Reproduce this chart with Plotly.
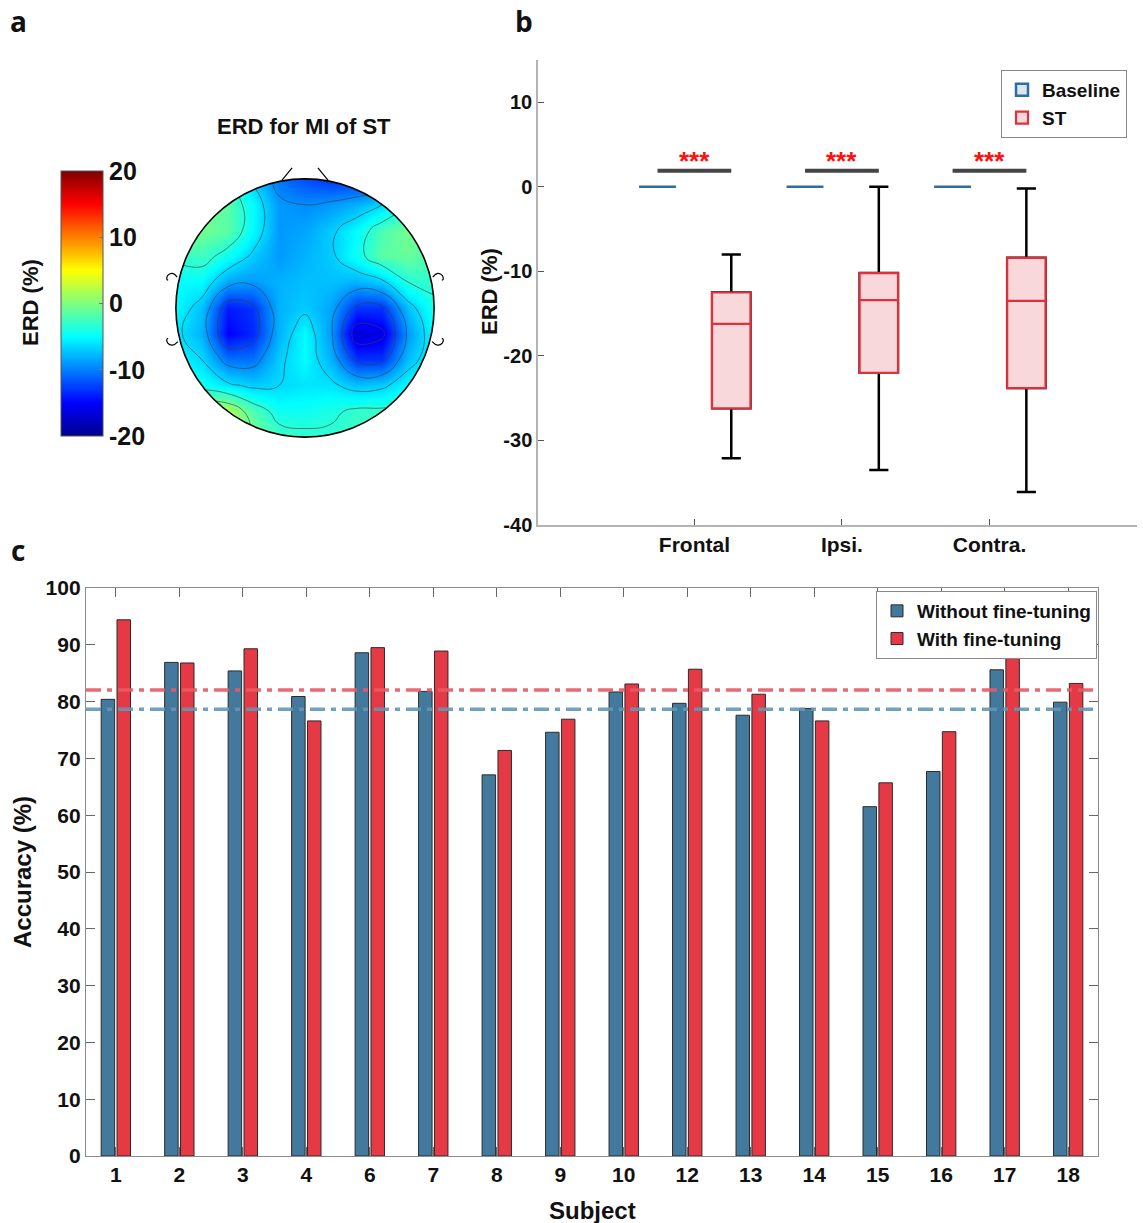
import numpy as np
import plotly.graph_objects as go

W, H = 1143, 1223
FONT = "Liberation Sans, Arial, Helvetica, sans-serif"

# ---------------- data ----------------
# Panel a: ERD topography (%), coarse grid (rows top -> bottom)
topo_x = [-1.0, -0.8, -0.6, -0.4, -0.2, 0.0, 0.2, 0.4, 0.6, 0.8, 1.0]
topo_y_top_down = [1.0, 0.8, 0.6, 0.4, 0.2, 0.0, -0.2, -0.4, -0.6, -0.8, -1.0]
topo_rows = [
    [-3, -3, -4, -7, -10.5, -12, -13, -13, -12, -8, -5],
    [-1, -1, -1.5, -5, -9, -9.5, -9, -8, -6.5, -4, -3],
    [-1, -0.5, -1.5, -5, -9, -8.5, -7, -5, -2, -0.5, -1],
    [-3, -2.5, -4.5, -7, -9, -8, -7, -4.5, -1.5, -1, -2],
    [-5, -5, -8.5, -9, -8, -7.5, -7.5, -8, -7, -3.5, -3],
    [-5, -7.5, -14, -13, -8, -7, -8.5, -13, -13, -7.5, -4],
    [-6, -8, -15, -13.5, -8, -5, -9, -17, -16, -9, -5],
    [-5, -6.5, -10.5, -10.5, -7, -5, -8, -13, -13, -7.5, -5],
    [-4, -4.5, -6, -7, -6.5, -6, -6, -7.5, -7, -5, -4],
    [1, 2, 2, -2, -4.5, -4.5, -4, -3, -3, -3, -3],
    [3, 3, 3, 0, -2.5, -3, -3, -2.5, -2.5, -3, -3],
]
cbar_ticks = [-20, -10, 0, 10, 20]
cbar_ticktext = ["-20", "-10", "0", "10", "20"]

# Panel b: ERD box statistics (%)
regions = ["Frontal", "Ipsi.", "Contra."]
baseline_vals = [0, 0, 0]
st_upper = [-8.0, 0.0, -0.2]
st_q3 = [-12.5, -10.2, -8.4]
st_median = [-16.2, -13.4, -13.5]
st_q1 = [-26.2, -22.0, -23.8]
st_lower = [-32.1, -33.5, -36.1]
sig_labels = ["***", "***", "***"]
erd_ticks = [-40, -30, -20, -10, 0, 10]
erd_ticktext = ["-40", "-30", "-20", "-10", "0", "10"]

# Panel c: accuracy (%)
subjects = ["1", "2", "3", "4", "6", "7", "8", "9", "10", "12", "13", "14", "15", "16", "17", "18"]
acc_without = [80.4, 86.9, 85.4, 80.9, 88.6, 81.8, 67.1, 74.6, 81.7, 79.7, 77.6, 78.8, 61.5, 67.7, 85.6, 79.9]
acc_with = [94.4, 86.8, 89.3, 76.6, 89.5, 88.9, 71.4, 76.9, 83.1, 85.7, 81.3, 76.6, 65.7, 74.7, 88.8, 83.2]

# ---------------- helpers ----------------
def PX(x):
    return x / W

def PY(y):
    return 1 - y / H

jet = [
    [0.0, "rgb(0,0,143)"], [0.125, "rgb(0,0,255)"], [0.375, "rgb(0,255,255)"],
    [0.625, "rgb(255,255,0)"], [0.875, "rgb(255,0,0)"], [1.0, "rgb(128,0,0)"],
]

fig = go.Figure()

# ---------------- panel a ----------------
topo_y = topo_y_top_down[::-1]
topo_z = topo_rows[::-1]
fig.add_trace(go.Heatmap(
    x=topo_x, y=topo_y, z=topo_z, zsmooth="best", zmin=-20, zmax=20,
    colorscale=jet, xaxis="x", yaxis="y", hoverinfo="skip", showlegend=False,
    colorbar=dict(
        x=PX(61), xanchor="left", y=PY(303.5), yanchor="middle",
        len=265 / H, lenmode="fraction", thickness=42, thicknessmode="pixels",
        xpad=0, ypad=0, outlinewidth=1, outlinecolor="#555",
        tickvals=cbar_ticks, ticktext=cbar_ticktext, ticks="inside", ticklen=4, tickcolor="#777",
        tickfont=dict(family=FONT, size=25, color="#111", weight="bold"),
    ),
))
fig.add_trace(go.Contour(
    x=topo_x, y=topo_y, z=topo_z, showscale=False, showlegend=False, hoverinfo="skip",
    contours=dict(coloring="none", start=-15.5, end=3, size=3),
    line=dict(color="rgba(60,60,60,0.7)", width=0.9, smoothing=1.3),
    xaxis="x", yaxis="y",
))

theta = np.linspace(0, 2 * np.pi, 241)
circ = " L ".join(f"{np.cos(t):.4f},{np.sin(t):.4f}" for t in theta)
mask_path = "M -1.1,-1.1 L 1.1,-1.1 L 1.1,1.1 L -1.1,1.1 Z M " + circ + " Z"

shapes = [
    dict(type="path", path=mask_path, xref="x", yref="y", fillcolor="white",
         line=dict(width=0), layer="above", fillrule="evenodd"),
    dict(type="circle", xref="x", yref="y", x0=-1, x1=1, y0=-1, y1=1,
         line=dict(color="black", width=1.6), layer="above"),
    # nose
    dict(type="line", xref="x", yref="y", x0=-0.178, y0=0.99, x1=-0.10, y1=1.085,
         line=dict(color="black", width=1.2), layer="above"),
    dict(type="line", xref="x", yref="y", x0=0.178, y0=0.99, x1=0.10, y1=1.085,
         line=dict(color="black", width=1.2), layer="above"),
    # ears
    dict(type="path", xref="x", yref="y", path="M -0.99,0.24 Q -1.03,0.29 -1.065,0.25 Q -1.08,0.22 -1.06,0.215",
         line=dict(color="black", width=1.2), layer="above"),
    dict(type="path", xref="x", yref="y", path="M -0.985,-0.26 Q -1.03,-0.31 -1.065,-0.27 Q -1.08,-0.24 -1.06,-0.235",
         line=dict(color="black", width=1.2), layer="above"),
    dict(type="path", xref="x", yref="y", path="M 0.99,0.24 Q 1.03,0.29 1.065,0.25 Q 1.08,0.22 1.06,0.215",
         line=dict(color="black", width=1.2), layer="above"),
    dict(type="path", xref="x", yref="y", path="M 0.985,-0.26 Q 1.03,-0.31 1.065,-0.27 Q 1.08,-0.24 1.06,-0.235",
         line=dict(color="black", width=1.2), layer="above"),
]

# ---------------- panel b ----------------
pos = np.arange(1, len(regions) + 1)
base_x = pos - 0.25
st_x = pos + 0.25

fig.add_trace(go.Box(
    x=base_x, q1=baseline_vals, median=baseline_vals, q3=baseline_vals,
    lowerfence=baseline_vals, upperfence=baseline_vals, width=0.25, whiskerwidth=0.5,
    name="Baseline", line=dict(color="#2E6E9E", width=2.5), fillcolor="#DCE6EE",
    boxpoints=False, xaxis="x2", yaxis="y2", legend="legend2", hoverinfo="skip",
))
fig.add_trace(go.Box(
    x=st_x, q1=st_q1, median=st_median, q3=st_q3,
    lowerfence=st_lower, upperfence=st_upper, width=0.26, whiskerwidth=0.5,
    name="ST_whisker", line=dict(color="black", width=2.5), fillcolor="rgba(0,0,0,0)",
    boxpoints=False, xaxis="x2", yaxis="y2", showlegend=False, hoverinfo="skip",
))
fig.add_trace(go.Box(
    x=st_x, q1=st_q1, median=st_median, q3=st_q3,
    lowerfence=st_q1, upperfence=st_q3, width=0.26, whiskerwidth=0.0,
    name="ST", line=dict(color="#E0303C", width=2.2), fillcolor="#F9D8DC",
    boxpoints=False, xaxis="x2", yaxis="y2", legend="legend2", hoverinfo="skip",
))

for i in range(len(regions)):
    shapes.append(dict(type="line", xref="x2", yref="y2", x0=base_x[i], x1=st_x[i],
                       y0=1.9, y1=1.9, line=dict(color="#454545", width=4)))

# ---------------- panel c ----------------
fig.add_trace(go.Bar(
    x=subjects, y=acc_without, name="Without fine-tuning",
    marker=dict(color="#44799E", line=dict(color="#2a2a2a", width=1)),
    xaxis="x3", yaxis="y3", hoverinfo="skip",
))
fig.add_trace(go.Bar(
    x=subjects, y=acc_with, name="With fine-tuning",
    marker=dict(color="#E63946", line=dict(color="#2a2a2a", width=1)),
    xaxis="x3", yaxis="y3", hoverinfo="skip",
))
mean_with = float(np.mean(acc_with))
mean_without = float(np.mean(acc_without))
shapes.append(dict(type="line", xref="x3 domain", yref="y3", x0=0, x1=1, y0=mean_with, y1=mean_with,
                   line=dict(color="rgba(232,90,100,0.9)", width=3.5, dash="15px,6px,5px,6px"),
                   layer="above"))
shapes.append(dict(type="line", xref="x3 domain", yref="y3", x0=0, x1=1, y0=mean_without, y1=mean_without,
                   line=dict(color="rgba(100,150,182,0.9)", width=3.5, dash="15px,6px,5px,6px"),
                   layer="above"))

# ---------------- annotations ----------------
def ann(text, x, y, size, angle=0, color="#111", family=FONT):
    return dict(text=text, x=PX(x), y=PY(y), xref="paper", yref="paper", showarrow=False,
                xanchor="center", yanchor="middle", textangle=angle,
                font=dict(family=family, size=size, color=color, weight="bold"))

LETTER_FONT = "Open Sans, Lato, sans-serif"
annotations = [
    ann("a", 18, 21, 28, family=LETTER_FONT),
    ann("b", 524, 21, 28, family=LETTER_FONT),
    ann("c", 18, 550, 28, family=LETTER_FONT),
    ann("ERD for MI of ST", 304, 127, 22),
    ann("ERD (%)", 30, 303, 22, angle=-90),
    ann("ERD (%)", 489, 292, 22, angle=-90),
    ann("Accuracy (%)", 22, 872, 24, angle=-90),
    ann("Subject", 592, 1210, 24),
]
for i, lab in enumerate(sig_labels):
    annotations.append(dict(text=lab, x=pos[i], y=3.1, xref="x2", yref="y2", showarrow=False,
                            xanchor="center", yanchor="middle",
                            font=dict(family=FONT, size=26, color="#FF1010", weight="bold")))

# ---------------- layout ----------------
tickfont_b = dict(family=FONT, size=20, color="#111", weight="bold")
tickfont_c = dict(family=FONT, size=21, color="#111", weight="bold")

fig.update_layout(
    width=W, height=H, autosize=False, template="none",
    margin=dict(l=0, r=0, t=0, b=0),
    paper_bgcolor="white", plot_bgcolor="rgba(0,0,0,0)",
    barmode="group", bargap=0.5, bargroupgap=0.15, boxmode="overlay",
    shapes=shapes, annotations=annotations,
    xaxis=dict(domain=[PX(163), PX(447)], range=[-1.1, 1.1], visible=False, anchor="y"),
    yaxis=dict(domain=[PY(450), PY(166)], range=[-1.1, 1.1], visible=False, anchor="x"),
    xaxis2=dict(domain=[PX(538), PX(1137)], range=[-0.06, 4.0], anchor="y2",
                tickvals=list(pos), ticktext=regions, ticks="inside", ticklen=6,
                tickcolor="#555", showline=True, linecolor="#b3b3b3", linewidth=1.5,
                showgrid=False, zeroline=False, tickfont=dict(family=FONT, size=21, color="#111", weight="bold")),
    yaxis2=dict(domain=[PY(525), PY(60)], range=[-40, 15], anchor="x2",
                tickvals=erd_ticks, ticktext=erd_ticktext, ticks="inside", ticklen=6,
                tickcolor="#555", showline=True, linecolor="#b3b3b3", linewidth=1.5,
                showgrid=False, zeroline=False, tickfont=tickfont_b),
    xaxis3=dict(domain=[PX(86), PX(1098)], range=[-0.47, 15.47], anchor="y3", type="category",
                ticks="inside", ticklen=9, tickcolor="#666", showline=True, linecolor="#8c8c8c",
                linewidth=1.3, mirror="allticks", showgrid=False, zeroline=False, tickfont=tickfont_c),
    yaxis3=dict(domain=[PY(1156), PY(588)], range=[0, 100], dtick=10, anchor="x3",
                ticks="inside", ticklen=9, tickcolor="#666", showline=True, linecolor="#8c8c8c",
                linewidth=1.3, mirror="allticks", showgrid=False, zeroline=False, tickfont=tickfont_c),
    legend=dict(x=PX(1097), xanchor="right", y=PY(591), yanchor="top",
                bgcolor="white", bordercolor="#888", borderwidth=1, tracegroupgap=0,
                font=dict(family=FONT, size=19, color="#111", weight="bold")),
    legend2=dict(x=PX(1127), xanchor="right", y=PY(70), yanchor="top",
                 bgcolor="white", bordercolor="#888", borderwidth=1, tracegroupgap=0,
                 font=dict(family=FONT, size=19, color="#111", weight="bold")),
)

fig.write_html("out.html")
